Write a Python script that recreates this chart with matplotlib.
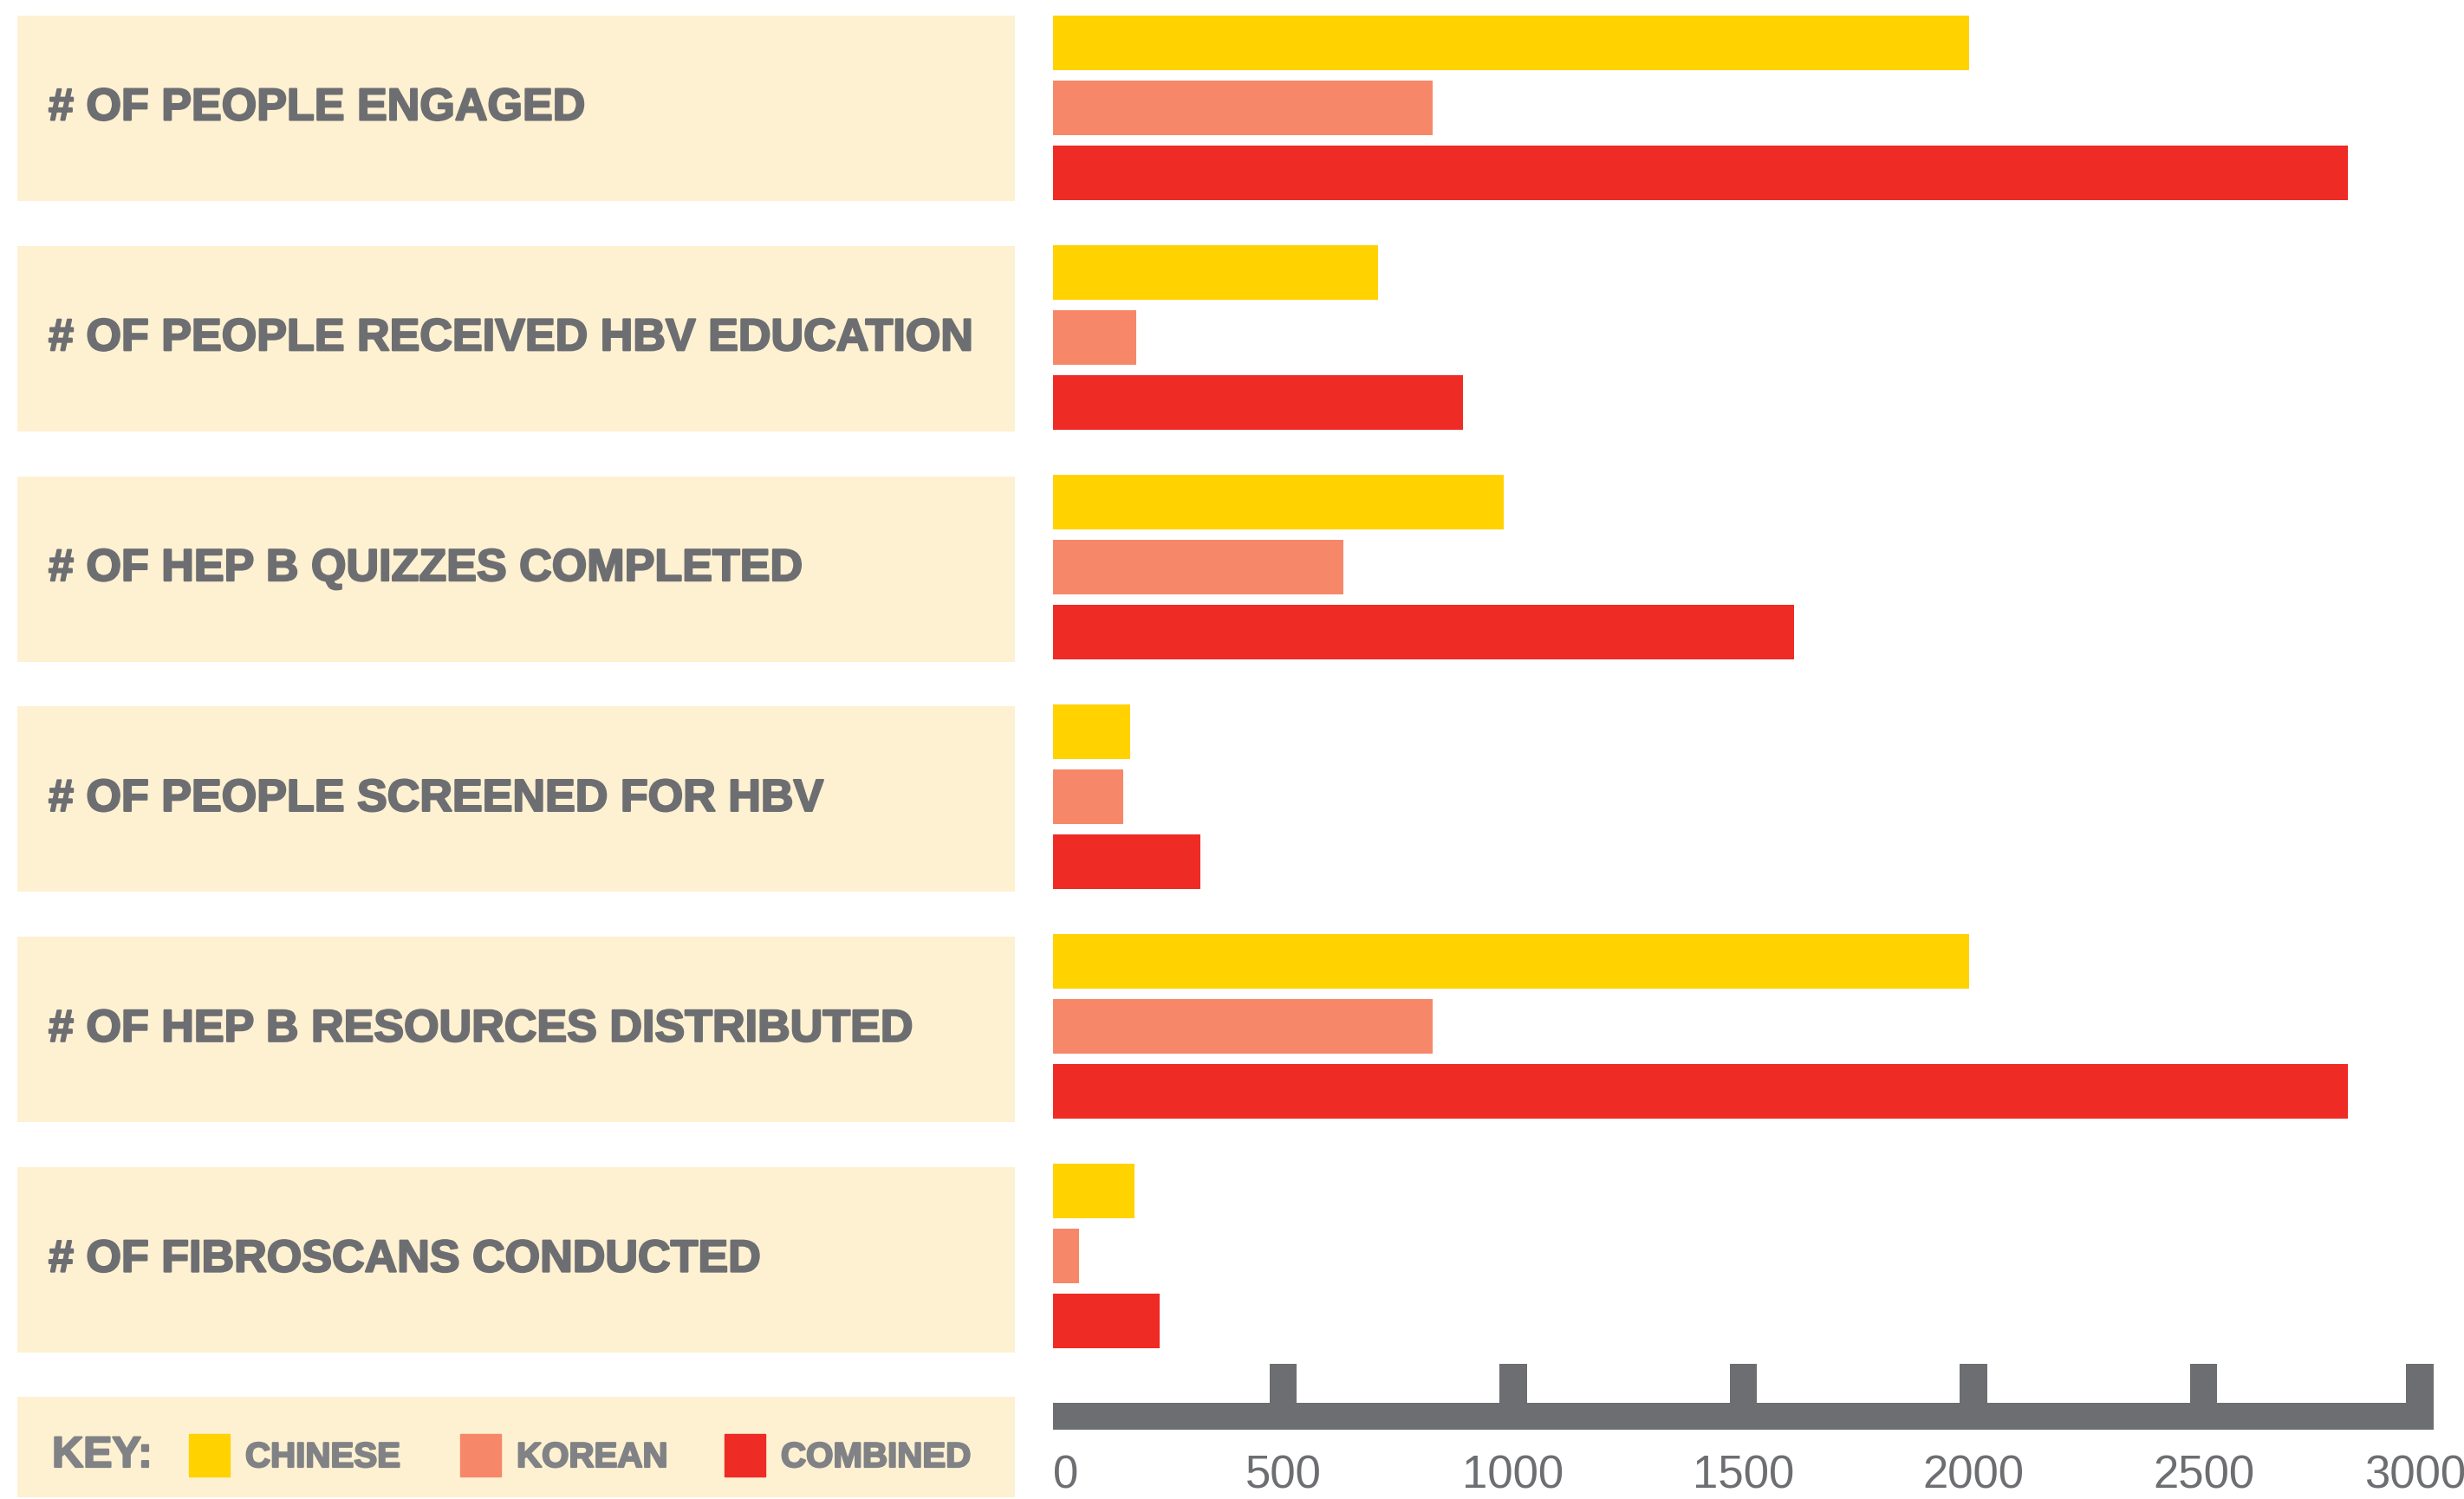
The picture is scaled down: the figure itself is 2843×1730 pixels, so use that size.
import numpy as np
import matplotlib
matplotlib.use("Agg")
import matplotlib.pyplot as plt
from matplotlib.patches import Rectangle
import matplotlib.patheffects as pe

# data
categories = ["# OF PEOPLE ENGAGED",
              "# OF PEOPLE RECEIVED HBV EDUCATION",
              "# OF HEP B QUIZZES COMPLETED",
              "# OF PEOPLE SCREENED FOR HBV",
              "# OF HEP B RESOURCES DISTRIBUTED",
              "# OF FIBROSCANS CONDUCTED"]
chinese = [1990, 706, 979, 167, 1990, 177]
korean = [824, 181, 631, 153, 824, 57]
combined = [2814, 890, 1611, 320, 2814, 232]
series_names = ["CHINESE", "KOREAN", "COMBINED"]
tick_values = [500, 1000, 1500, 2000, 2500, 2970]
tick_labels = ["0", "500", "1000", "1500", "2000", "2500", "3000"]
label_pos = [0, 500, 1000, 1500, 2000, 2500, 2960]

YELLOW = "#FFD200"
SALMON = "#F68869"
RED = "#EE2B24"
BEIGE = "#FEF1D2"
GRAY = "#6D6E71"
LGRAY = "#808285"

W, H = 2843, 1730
fig = plt.figure(figsize=(W / 100, H / 100), dpi=100)

def px_axes(x0, y0, x1, y1):
    # x0,y0 top-left, x1,y1 bottom-right in pixels
    return fig.add_axes([x0 / W, 1 - y1 / H, (x1 - x0) / W, (y1 - y0) / H])

def heavy(col):
    return [pe.withStroke(linewidth=1.6, foreground=col)]

pitch = 266.0
panel_h = 214 / pitch
bar_h = 63.5 / pitch
off = 75.5 / pitch
top, bottom = 18, 1561

ax_lab = px_axes(20, top, 1171, bottom)
ax = px_axes(1215, top, 2808, bottom - 5)
y = np.arange(len(categories))
for a in (ax_lab, ax):
    a.set_ylim(len(categories) - 1 + panel_h / 2, -panel_h / 2)
    a.axis("off")

ax_lab.barh(y, 1, height=panel_h, left=0, color=BEIGE)
ax_lab.set_xlim(0, 1)
for i, c in enumerate(categories):
    ax_lab.text(36 / 1151, i, c, color=GRAY, fontsize=37.5, fontweight="bold",
                family="Liberation Sans", va="center", ha="left",
                path_effects=heavy(GRAY))

ax.barh(y - off, chinese, height=bar_h, color=YELLOW)
ax.barh(y, korean, height=bar_h, color=SALMON)
ax.barh(y + off, combined, height=bar_h, color=RED)
ax.set_xlim(0, 3000)

# custom axis
ax_x = px_axes(1215, 1574, 2808, 1650)
ax_x.set_xlim(0, 3000)
ax_x.set_ylim(0, 1)
ax_x.axis("off")
ax_x.bar([1500], [31 / 76], width=3000, bottom=0, color=GRAY)
ax_x.bar(tick_values, [1] * len(tick_values), width=60, color=GRAY)
for v, t in zip(label_pos, tick_labels):
    ax_x.text(v, -0.71, t, color=GRAY, fontsize=38, family="Liberation Sans",
              ha="left" if v == 0 else "center", va="center", clip_on=False)

# key
ax_k = px_axes(20, 1612, 1171, 1728)
ax_k.set_xlim(0, 1151)
ax_k.set_ylim(116, 0)
ax_k.axis("off")
ax_k.add_patch(Rectangle((0, 0), 1151, 116, color=BEIGE))
ax_k.text(40, 68, "KEY:", color=LGRAY, fontsize=36, fontweight="bold",
          family="Liberation Sans", va="center", path_effects=heavy(LGRAY))
for x0, col, name in zip([198, 511, 816], [YELLOW, SALMON, RED], series_names):
    ax_k.add_patch(Rectangle((x0, 43), 47, 49, color=col))
    ax_k.text(x0 + 65, 70, name, color=LGRAY, fontsize=29, fontweight="bold",
              family="Liberation Sans", va="center", path_effects=heavy(LGRAY))

fig.savefig("out.png", dpi=100)
